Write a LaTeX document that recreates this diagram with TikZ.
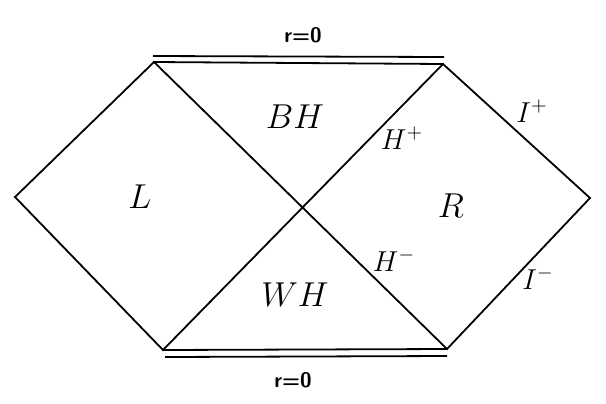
\documentclass[tikz,border=0pt]{standalone}
\tikzset{
  edge/.style={line width=0.9pt},
  region/.style={font=\fontsize{19}{21}\selectfont},
  horizon/.style={font=\fontsize{14}{16}\selectfont},
  sing/.style={font=\fontsize{10.5}{12}\selectfont\sffamily\bfseries}
}
\begin{document}
\begin{tikzpicture}[x=0.5pt,y=-0.5pt]
\useasboundingbox (0,0) rectangle (606,403);
% corners of the diagram
\coordinate (lft) at (15,197);
\coordinate (rgt) at (590,198);
\coordinate (tl) at (154,62);
\coordinate (tr) at (443,64);
\coordinate (bl) at (163,350);
\coordinate (br) at (447,349);
\coordinate (tlo) at (153,56);
\coordinate (tro) at (444,57);
\coordinate (blo) at (165,357);
\coordinate (bro) at (447,356);
% edges
\draw[edge] (lft) -- (tl) -- (br) -- (rgt) -- (tr) -- (bl) -- cycle;
\draw[edge] (tl) -- (tr);
\draw[edge] (tlo) -- (tro);
\draw[edge] (bl) -- (br);
\draw[edge] (blo) -- (bro);
% labels
\node[sing] (rtop) at (303,35) {r=0};
\node[sing] (rbot) at (293,380) {r=0};
\node[region] (L) at (140,197) {$L$};
\node[region] (R) at (451,206) {$R$};
\node[region, font=\fontsize{17.5}{19}\selectfont] (BH) at (295,117) {$BH$};
\node[region, font=\fontsize{17.5}{19}\selectfont] (WH) at (295,295) {$WH$};
\node[horizon] (Hp) at (402,138) {$H^+$};
\node[horizon] (Hm) at (394,260) {$H^-$};
\node[horizon] (Ip) at (532,111) {$I^+$};
\node[horizon] (Im) at (538,278) {$I^-$};
\end{tikzpicture}
\end{document}
